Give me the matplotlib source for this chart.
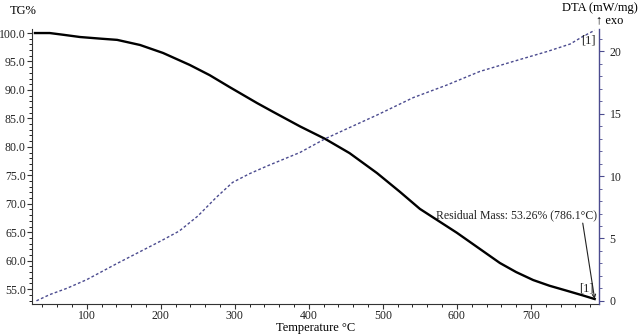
import matplotlib
matplotlib.use("Agg")
import matplotlib.pyplot as plt
from matplotlib.ticker import MultipleLocator, FormatStrFormatter

plt.rcParams['font.family'] = ['Liberation Serif', 'DejaVu Serif']

# TG (mass %) curve
tg_temp = [30, 50, 68, 91, 120, 141, 172, 203, 239, 266, 293, 330, 351, 388, 422,
           455, 492, 523, 550, 600, 658, 680, 703, 725, 749, 770, 786.1]
tg_mass = [100.0, 100.0, 99.7, 99.3, 99.0, 98.8, 97.9, 96.5, 94.4, 92.6, 90.5, 87.7,
           86.2, 83.6, 81.4, 78.9, 75.4, 72.1, 69.1, 64.9, 59.6, 58.0, 56.6, 55.6,
           54.7, 53.9, 53.26]

# DTA curve (mW/mg)
dta_temp = [32, 50, 73, 100, 141, 200, 225, 250, 275, 297, 320, 343, 388, 422, 455,
            492, 541, 586, 631, 676, 722, 753, 770, 786.1]
dta_val = [0.0, 0.5, 1.0, 1.7, 3.0, 4.8, 5.6, 6.8, 8.3, 9.5, 10.2, 10.8, 11.9, 13.0,
           13.9, 14.9, 16.3, 17.3, 18.4, 19.2, 20.0, 20.6, 21.2, 21.7]

x_ticks = [100, 200, 300, 400, 500, 600, 700]
tg_ticks = [55, 60, 65, 70, 75, 80, 85, 90, 95, 100]
dta_ticks = [0, 5, 10, 15, 20]

blue = '#4b4b8f'
fs = 9
tfs = 8.5

fig = plt.figure(figsize=(6.4, 3.34), dpi=100)
ax = fig.add_axes([0.05, 0.09, 0.886, 0.823])
ax2 = ax.twinx()

ax.plot(tg_temp, tg_mass, color='black', lw=1.7, zorder=3)
ax2.plot(dta_temp, dta_val, color=blue, lw=1.0, linestyle=(0, (2.0, 1.6)))

ax.set_xlim(26, 792)
ax.set_ylim(52.4, 100.7)
ax2.set_ylim(-0.25, 21.8)

ax.set_xticks(x_ticks)
ax.set_yticks(tg_ticks)
ax2.set_yticks(dta_ticks)
ax.yaxis.set_major_formatter(FormatStrFormatter('%.1f'))
ax.xaxis.set_minor_locator(MultipleLocator(20))
ax.yaxis.set_minor_locator(MultipleLocator(1))
ax2.yaxis.set_minor_locator(MultipleLocator(1))

for a in (ax, ax2):
    a.spines['top'].set_visible(False)
    a.tick_params(which='major', direction='out', length=3.5, width=0.8,
                  labelsize=tfs, pad=1)
    a.tick_params(which='minor', direction='out', length=2, width=0.6)
ax2.spines['left'].set_visible(False)
ax2.spines['bottom'].set_visible(False)
ax2.spines['right'].set_color(blue)
ax2.spines['right'].set_linewidth(1.0)
ax2.tick_params(axis='y', which='both', colors=blue, labelcolor='#222222', pad=4)
ax.spines['left'].set_color('#333333')
ax.spines['bottom'].set_color('#333333')
ax.spines['right'].set_visible(False)

ax.tick_params(axis='both', colors='#333333', labelcolor='#222222')

fig.text(0.016, 0.968, 'TG%', fontsize=fs, ha='left', va='center')
fig.text(0.997, 0.975, 'DTA (mW/mg)', fontsize=fs, ha='right', va='center')
fig.text(0.932, 0.940, '\u2191 exo', fontsize=fs, ha='left', va='center')
ax.set_xlabel('Temperature \u00b0C', fontsize=fs, labelpad=0)

ax.text(789, 67.0, 'Residual Mass: 53.26% (786.1\u00b0C)', ha='right', va='bottom',
        fontsize=8.5, color='#222222')
ax.annotate('', xy=(786.1, 53.26), xytext=(770, 66.6),
            arrowprops=dict(arrowstyle='->,head_length=0.25,head_width=0.12',
                            color='#222222', lw=0.8, shrinkA=0, shrinkB=0))
ax.text(785, 55.2, '[1]', fontsize=fs, ha='right', va='center', color='#222222')
ax2.text(788, 20.9, '[1]', fontsize=fs, ha='right', va='center', color='#222222')

fig.savefig('out.png', dpi=100)
